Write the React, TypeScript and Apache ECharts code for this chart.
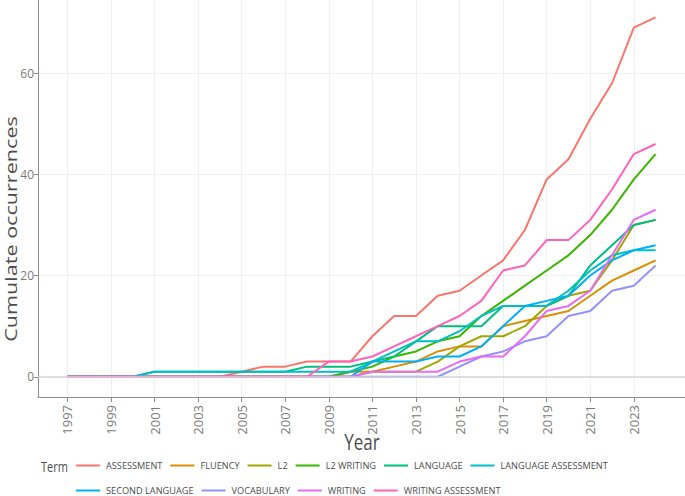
import React, { useEffect, useRef } from "react";
import * as echarts from "echarts";

const years = [1997, 1998, 1999, 2000, 2001, 2002, 2003, 2004, 2005, 2006, 2007, 2008, 2009, 2010, 2011, 2012, 2013, 2014, 2015, 2016, 2017, 2018, 2019, 2020, 2021, 2022, 2023, 2024];
const xTickYears = [1997, 1999, 2001, 2003, 2005, 2007, 2009, 2011, 2013, 2015, 2017, 2019, 2021, 2023];
const yTicks = [0, 20, 40, 60];

const terms = ["ASSESSMENT", "FLUENCY", "L2", "L2 WRITING", "LANGUAGE", "LANGUAGE ASSESSMENT", "SECOND LANGUAGE", "VOCABULARY", "WRITING", "WRITING ASSESSMENT"];
const colors = ["#F8766D", "#D89000", "#A3A500", "#39B600", "#00BF7D", "#00BFC4", "#00B0F6", "#9590FF", "#E76BF3", "#FF62BC"];

const assessment = [0, 0, 0, 0, 0, 0, 0, 0, 1, 2, 2, 3, 3, 3, 8, 12, 12, 16, 17, 20, 23, 29, 39, 43, 51, 58, 69, 71];
const fluency = [0, 0, 0, 0, 0, 0, 0, 0, 0, 0, 0, 0, 0, 1, 1, 2, 3, 5, 6, 6, 10, 11, 12, 13, 16, 19, 21, 23];
const l2 = [0, 0, 0, 0, 0, 0, 0, 0, 0, 0, 0, 0, 0, 0, 1, 1, 1, 3, 6, 8, 8, 10, 14, 16, 17, 23, 30, 31];
const l2Writing = [0, 0, 0, 0, 0, 0, 0, 0, 0, 0, 0, 0, 0, 1, 2, 4, 5, 7, 8, 12, 15, 18, 21, 24, 28, 33, 39, 44];
const language = [0, 0, 0, 0, 1, 1, 1, 1, 1, 1, 1, 2, 2, 2, 3, 4, 7, 10, 10, 10, 14, 14, 14, 16, 22, 26, 30, 31];
const languageAssessment = [0, 0, 0, 0, 1, 1, 1, 1, 1, 1, 1, 1, 1, 1, 3, 5, 7, 7, 9, 12, 14, 14, 14, 17, 21, 24, 25, 25];
const secondLanguage = [0, 0, 0, 0, 0, 0, 0, 0, 0, 0, 0, 0, 0, 0, 3, 3, 3, 4, 4, 6, 10, 14, 15, 16, 20, 23, 25, 26];
const vocabulary = [0, 0, 0, 0, 0, 0, 0, 0, 0, 0, 0, 0, 0, 0, 0, 0, 0, 0, 2, 4, 5, 7, 8, 12, 13, 17, 18, 22];
const writing = [0, 0, 0, 0, 0, 0, 0, 0, 0, 0, 0, 0, 0, 0, 1, 1, 1, 1, 3, 4, 4, 8, 13, 14, 17, 24, 31, 33];
const writingAssessment = [0, 0, 0, 0, 0, 0, 0, 0, 0, 0, 0, 0, 3, 3, 4, 6, 8, 10, 12, 15, 21, 22, 27, 27, 31, 37, 44, 46];

const seriesValues = [assessment, fluency, l2, l2Writing, language, languageAssessment, secondLanguage, vocabulary, writing, writingAssessment];

const FONT = "'Open Sans', 'Noto Sans', sans-serif";

export default function App() {
  const ref = useRef<HTMLDivElement>(null);
  useEffect(() => {
    const chart = echarts.init(ref.current!, null, { renderer: "svg" });
    const series: any[] = terms.map((name, i) => ({
      name,
      type: "line",
      data: years.map((y, j) => [y, seriesValues[i][j]]),
      symbol: "none",
      showSymbol: false,
      lineStyle: { width: 2, color: colors[i] },
      itemStyle: { color: colors[i] },
      emphasis: { disabled: true },
      ...(i === 0
        ? {
            markLine: {
              silent: true,
              symbol: "none",
              label: { show: false },
              lineStyle: { color: "#d4d4d4", width: 1.5, type: "solid" },
              data: [{ yAxis: 0 }],
            },
          }
        : {}),
    }));
    const legendCommon = {
      left: 76,
      padding: 0,
      icon: "rect",
      itemWidth: 24,
      itemHeight: 2,
      itemGap: 8,
      selectedMode: false,
      textStyle: { fontFamily: FONT, fontSize: 9.2, color: "#4d4d4d", padding: [0, 0, 0, 1] },
    };
    chart.setOption({
      animation: false,
      backgroundColor: "#ffffff",
      grid: { left: 38, right: 0, top: 0, bottom: 99 },
      xAxis: {
        type: "value",
        min: 1995.65,
        max: 2025.35,
        axisLine: { show: true, onZero: false, lineStyle: { color: "#8c8c8c", width: 1 } },
        axisTick: { show: true, customValues: xTickYears, length: 5, lineStyle: { color: "#8c8c8c" } },
        axisLabel: {
          customValues: xTickYears,
          rotate: 90,
          margin: 8,
          color: "#7a7a7a",
          fontSize: 13,
          fontFamily: FONT,
          formatter: (v: number) => String(Math.round(v)),
        },
        splitLine: { show: true, lineStyle: { color: "#efefef", width: 1 } },
      },
      yAxis: {
        type: "value",
        min: -4.0,
        max: 74.45,
        axisLine: { show: true, onZero: false, lineStyle: { color: "#8c8c8c", width: 1 } },
        axisTick: { show: true, customValues: yTicks, length: 4, lineStyle: { color: "#8c8c8c" } },
        axisLabel: { customValues: yTicks, margin: 4, color: "#7a7a7a", fontSize: 12, fontFamily: FONT },
        splitLine: { show: true, lineStyle: { color: "#efefef", width: 1 } },
      },
      legend: [
        { ...legendCommon, top: 461, data: terms.slice(0, 6) },
        { ...legendCommon, top: 486, data: terms.slice(6) },
      ],
      graphic: [
        {
          type: "text",
          x: 11,
          y: 229,
          rotation: Math.PI / 2,
          scaleX: 1.35,
          style: { text: "Cumulate occurrences", align: "center", verticalAlign: "middle", fontSize: 16, fill: "#4d4d4d", fontFamily: FONT },
        },
        {
          type: "text",
          x: 362,
          y: 442,
          scaleY: 1.3,
          style: { text: "Year", align: "center", verticalAlign: "middle", fontSize: 17, fill: "#4d4d4d", fontFamily: FONT },
        },
        {
          type: "text",
          x: 41,
          y: 466,
          scaleY: 1.3,
          style: { text: "Term", align: "left", verticalAlign: "middle", fontSize: 11, fill: "#4d4d4d", fontFamily: FONT },
        },
      ],
      series,
    });
    return () => chart.dispose();
  }, []);
  return <div ref={ref} style={{ position: "fixed", left: 0, top: 0, width: 685, height: 496 }} />;
}
